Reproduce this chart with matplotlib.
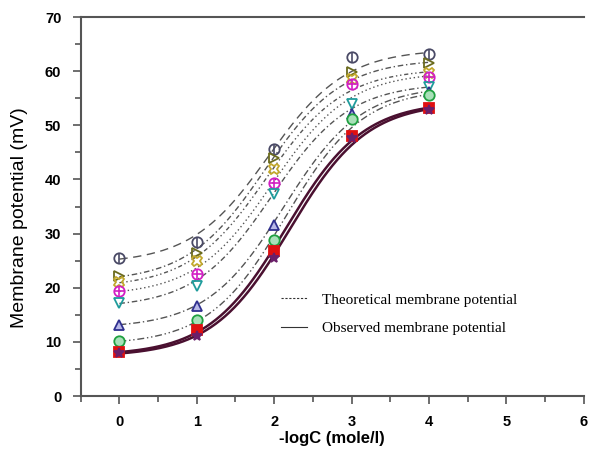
import numpy as np
import matplotlib.pyplot as plt
from matplotlib.lines import Line2D
from matplotlib.ticker import MultipleLocator

# -logC values (mole/l)
logc = np.array([0, 1, 2, 3, 4])

# membrane potential (mV) for each membrane / electrolyte
e_gray = [25.4, 28.4, 45.7, 62.6, 63.2]
e_olive = [22.1, 26.5, 43.9, 59.9, 61.5]
e_yellow = [21.0, 24.9, 42.0, 58.5, 59.7]
e_pink = [19.4, 22.6, 39.4, 57.6, 58.9]
e_teal = [17.2, 20.3, 37.4, 54.0, 57.0]
e_navy = [13.2, 16.7, 31.6, 52.0, 56.2]
e_green = [10.1, 14.0, 28.9, 51.2, 55.6]
e_red = [8.1, 12.1, 26.8, 48.0, 53.2]
e_purple = [7.9, 11.0, 25.4, 47.6, 52.9]


def sigmoid_fit(x, y):
    # weighted least squares logistic: y = a + b / (1 + exp(-k (x - x0)))
    y = np.asarray(y, float)
    w = np.array([3.0, 1.0, 1.0, 1.0, 3.0])
    best = None
    for k in np.linspace(0.8, 2.0, 49):
        for x0 in np.linspace(1.0, 3.5, 101):
            s = 1 / (1 + np.exp(-k * (x - x0)))
            A = np.column_stack([np.ones_like(s), s])
            coef = np.linalg.lstsq(A * w[:, None], y * w, rcond=None)[0]
            err = np.sum((w * (A @ coef - y)) ** 2)
            if best is None or err < best[0]:
                best = (err, k, x0, coef)
    _, k, x0, coef = best
    return lambda t: coef[0] + coef[1] / (1 + np.exp(-k * (t - x0)))


series = [
    (e_gray, '#4a4a66', 'o', 'none', (0, (6, 4)), '#555555'),
    (e_olive, '#6b6b1e', '>', 'none', (0, (4, 2, 1, 2)), '#555555'),
    (e_yellow, '#c2a82c', 'X', 'none', (0, (3, 2, 1, 2, 1, 2)), '#555555'),
    (e_pink, '#d21fc4', 'o', 'none', (0, (1, 2)), '#555555'),
    (e_teal, '#1f9c9c', 'v', 'none', (0, (4, 2, 1, 2)), '#555555'),
    (e_navy, '#2f2f8f', '^', '#b8b8e8', (0, (5, 2, 1, 2)), '#555555'),
    (e_green, '#1fa040', 'o', '#a8e0b8', (0, (5, 2, 1, 2, 1, 2)), '#555555'),
    (e_red, '#e01010', 's', '#e01010', '-', '#4a1030'),
    (e_purple, '#6a1f6a', '*', '#6a1f6a', '-', '#4a1030'),
]

fig = plt.figure(figsize=(5.95, 4.54), dpi=100)
ax = fig.add_axes([80.7 / 595, 58 / 454, (583.7 - 80.7) / 595, 379 / 454])

xs = np.linspace(0, 4, 200)
for vals, col, mk, fc, ls, lcol in series:
    f = sigmoid_fit(logc, vals)
    lw = 1.8 if ls == '-' else 1.0
    ax.plot(xs, f(xs), color=lcol, linestyle=ls, linewidth=lw, zorder=2)
    ax.plot(logc, vals, linestyle='none', marker=mk, markersize=7.5,
            markerfacecolor=fc, markeredgecolor=col, markeredgewidth=1.3, zorder=3)

# extra glyph strokes inside the circular markers
ax.plot(logc, e_gray, linestyle='none', marker='|', markersize=7.5,
        markeredgecolor='#4a4a66', markeredgewidth=1.2, zorder=4)
ax.plot(logc, e_pink, linestyle='none', marker='+', markersize=7.5,
        markeredgecolor='#d21fc4', markeredgewidth=1.2, zorder=4)

ax.set_xlim(-0.5, 6)
ax.set_ylim(0, 70)
ax.xaxis.set_major_locator(MultipleLocator(1))
ax.xaxis.set_minor_locator(MultipleLocator(0.5))
ax.yaxis.set_major_locator(MultipleLocator(10))
ax.yaxis.set_minor_locator(MultipleLocator(5))
ax.tick_params(which='major', direction='out', length=6, width=1.2, color='#555555', pad=8)
ax.tick_params(which='minor', direction='out', length=4, width=1.2, color='#555555')
for lab in ax.get_xticklabels() + ax.get_yticklabels():
    lab.set_fontfamily('Liberation Sans')
    lab.set_fontweight('bold')
    lab.set_fontsize(10.5)

for side in ['left', 'bottom', 'top']:
    ax.spines[side].set_color('#555555')
    ax.spines[side].set_linewidth(1.5)
ax.spines['right'].set_visible(False)

ax.set_ylabel('Membrane potential (mV)', family='Liberation Sans', fontsize=14)
ax.yaxis.set_label_coords(-0.105, 0.47)
ax.set_xlabel('-logC (mole/l)', family='Liberation Sans', fontsize=12, fontweight='bold')
ax.xaxis.set_label_coords(0.5, -0.092)

handles = [
    Line2D([], [], color='#333333', linestyle=(0, (2, 1.5)), linewidth=0.8),
    Line2D([], [], color='#333333', linestyle='-', linewidth=0.8),
]
fig.legend(handles, ['Theoretical membrane potential', 'Observed membrane potential'],
           loc='upper left', bbox_to_anchor=(281 / 595, 1 - 293 / 454),
           frameon=False, borderpad=0, borderaxespad=0, handlelength=1.7,
           handletextpad=1.0, labelspacing=0.95,
           prop={'family': 'Liberation Serif', 'size': 11})

fig.savefig('out.png', dpi=100)
